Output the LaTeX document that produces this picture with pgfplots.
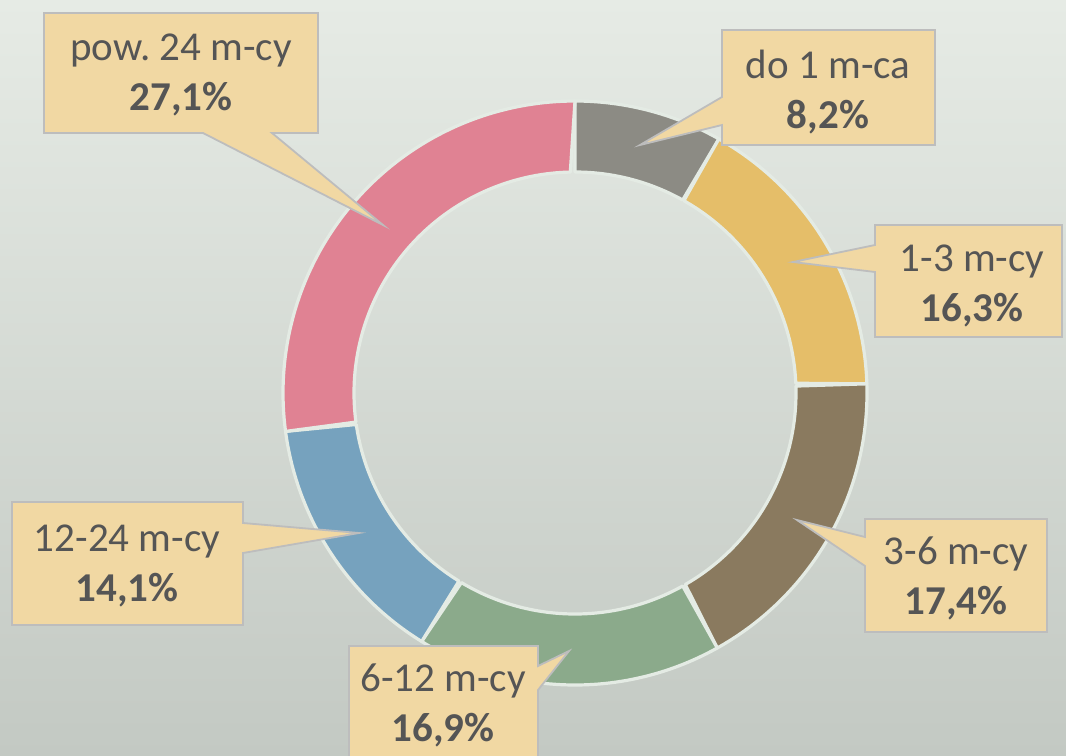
\documentclass[border=0pt]{standalone}
\usepackage{pgfplots}
\pgfplotsset{compat=1.18}
\usepackage{pgfplotstable}
\usepackage{fontspec}
\setmainfont{Carlito}
\frenchspacing
\definecolor{bgtop}{HTML}{E6EBE5}
\definecolor{bgbot}{HTML}{C3C9C3}
\definecolor{ringedge}{HTML}{E4EBE4}
\definecolor{boxfill}{HTML}{F1D8A3}
\definecolor{boxline}{HTML}{BDBDBD}
\definecolor{txt}{HTML}{555555}
\definecolor{s0}{HTML}{8C8B84}
\definecolor{s1}{HTML}{E5BE69}
\definecolor{s2}{HTML}{8A7A5F}
\definecolor{s3}{HTML}{8BAA8B}
\definecolor{s4}{HTML}{76A2BE}
\definecolor{s5}{HTML}{E08293}
\pgfplotstableread{
value color
8.2  s0
16.3 s1
17.4 s2
16.9 s3
14.1 s4
27.1 s5
}\data
\tikzset{
  lbl/.style={font=\fontsize{20.5bp}{25bp}\selectfont, text=txt, align=center, inner sep=0pt},
  callout/.style={fill=boxfill, draw=boxline, line width=0.9bp, line join=miter}
}
\begin{document}
\begin{tikzpicture}
\clip (0,0) rectangle (533bp,378bp);
\useasboundingbox (0,0) rectangle (533bp,378bp);
\begin{axis}[
  width=533bp, height=378bp, scale only axis,
  xmin=0, xmax=1066, ymin=0, ymax=756, y dir=reverse,
  hide axis, clip=false,
]
\fill[top color=bgtop, bottom color=bgbot] (axis cs:0,0) rectangle (axis cs:1066,756);
\def\cum{0}
\pgfplotsforeachungrouped \i in {0,...,5}{%
  \pgfplotstablegetelem{\i}{value}\of\data \let\v\pgfplotsretval
  \pgfplotstablegetelem{\i}{color}\of\data \let\c\pgfplotsretval
  \pgfmathsetmacro\a{-90+3.6*\cum}%
  \pgfmathsetmacro\cum{\cum+\v}%
  \pgfmathsetmacro\b{-90+3.6*\cum}%
  \edef\tmp{\noexpand\addplot[fill=\c, draw=ringedge, line width=1.6bp, line join=round, domain=0:2, samples=161, variable=\noexpand\t, no markers]
    ({575+((\noexpand\t<1.001) ? 292 : 221)*cos((\noexpand\t<1.001) ? (\a+(\b-\a)*\noexpand\t) : (\b-(\b-\a)*(\noexpand\t-1)))},
     {393+((\noexpand\t<1.001) ? 292 : 221)*sin((\noexpand\t<1.001) ? (\a+(\b-\a)*\noexpand\t) : (\b-(\b-\a)*(\noexpand\t-1)))}) -- cycle;}%
  \tmp
}
% pow. 24
\draw[callout] (axis cs:44,13) -- (axis cs:318,13) -- (axis cs:318,133) -- (axis cs:272,133) -- (axis cs:383,225) -- (axis cs:203,133) -- (axis cs:44,133) -- cycle;
\node[lbl] at (axis cs:181,75) {pow. 24 m-cy\\\textbf{27,1\%}};
% do 1
\draw[callout] (axis cs:722,30) -- (axis cs:935,30) -- (axis cs:935,145) -- (axis cs:722,145) -- (axis cs:722,125) -- (axis cs:640,145) -- (axis cs:722,97) -- cycle;
\node[lbl] at (axis cs:828,92) {do 1 m-ca\\\textbf{8,2\%}};
% 1-3
\draw[callout] (axis cs:875,225) -- (axis cs:1062,225) -- (axis cs:1062,337) -- (axis cs:875,337) -- (axis cs:875,272) -- (axis cs:793,262) -- (axis cs:875,245) -- cycle;
\node[lbl] at (axis cs:972,286) {1-3 m-cy\\\textbf{16,3\%}};
% 3-6
\draw[callout] (axis cs:865,519) -- (axis cs:1047,519) -- (axis cs:1047,632) -- (axis cs:865,632) -- (axis cs:865,566) -- (axis cs:797,520) -- (axis cs:865,537) -- cycle;
\node[lbl] at (axis cs:956,578) {3-6 m-cy\\\textbf{17,4\%}};
% 6-12
\draw[callout] (axis cs:349,646) -- (axis cs:538,646) -- (axis cs:538,666) -- (axis cs:569,651) -- (axis cs:538,690) -- (axis cs:538,775) -- (axis cs:349,775) -- cycle;
\node[lbl] at (axis cs:443,705) {6-12 m-cy\\\textbf{16,9\%}};
% 12-24
\draw[callout] (axis cs:12,502) -- (axis cs:243,502) -- (axis cs:243,523) -- (axis cs:359,533) -- (axis cs:243,553) -- (axis cs:243,625) -- (axis cs:12,625) -- cycle;
\node[lbl] at (axis cs:127,566) {12-24 m-cy\\\textbf{14,1\%}};
\end{axis}
\end{tikzpicture}
\end{document}
